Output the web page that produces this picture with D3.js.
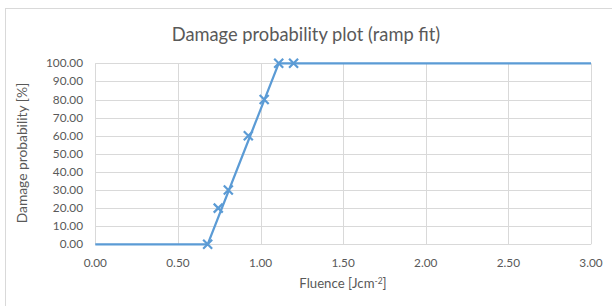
<!DOCTYPE html>
<html><head><meta charset="utf-8">
<script src="https://cdn.jsdelivr.net/npm/d3@7"></script>
<style>body{margin:0;background:#fff}svg{display:block}text{font-family:Lato,"Open Sans",sans-serif}</style>
</head><body><svg id="c" width="612" height="306"></svg>
<script>
const fitX = [0, 0.68, 1.11, 3.0];
const fitY = [0, 0, 100, 100];
const dataX = [0.68, 0.744, 0.805, 0.926, 1.022, 1.11, 1.20];
const dataY = [0, 20, 30, 60, 80, 100, 100];
const xTicks = [0, 0.5, 1, 1.5, 2, 2.5, 3];
const yTicks = [0,10,20,30,40,50,60,70,80,90,100];

const svg = d3.select("#c");
const m = {l:95.3, r:591, t:63.3, b:244.3};
const x = d3.scaleLinear().domain([0,3]).range([m.l,m.r]);
const y = d3.scaleLinear().domain([0,100]).range([m.b,m.t]);

svg.append("rect").attr("x",5.5).attr("y",8.5).attr("width",620).attr("height",310)
  .attr("fill","#fff").attr("stroke","#d9d9d9").attr("stroke-width",1);

svg.append("text").attr("x",306).attr("y",41).attr("text-anchor","middle")
  .attr("font-size",18.3).attr("fill","#595959").text("Damage probability plot (ramp fit)");

const g = svg.append("g");
g.selectAll(".gy").data(yTicks).join("line")
  .attr("x1",m.l).attr("x2",m.r).attr("y1",d=>Math.round(y(d))+0.5).attr("y2",d=>Math.round(y(d))+0.5)
  .attr("stroke","#d9d9d9");
g.selectAll(".gx").data(xTicks).join("line")
  .attr("y1",m.t).attr("y2",m.b).attr("x1",d=>Math.round(x(d))+0.5).attr("x2",d=>Math.round(x(d))+0.5)
  .attr("stroke","#d9d9d9");

g.selectAll(".ty").data(yTicks).join("text")
  .attr("x",83).attr("y",d=>y(d)+4).attr("text-anchor","end").attr("font-size",11.8)
  .attr("fill","#595959").text(d=>d.toFixed(2));
g.selectAll(".tx").data(xTicks).join("text")
  .attr("x",d=>x(d)).attr("y",267).attr("text-anchor","middle").attr("font-size",11.8)
  .attr("fill","#595959").text(d=>d.toFixed(2));

const xl = svg.append("text").attr("x",343).attr("y",288).attr("text-anchor","middle")
  .attr("font-size",13.2).attr("fill","#595959");
xl.append("tspan").text("Fluence [Jcm");
xl.append("tspan").attr("font-size",8.5).attr("dy",-4.5).text("-2");
xl.append("tspan").attr("dy",4.5).text("]");

svg.append("text").attr("transform","translate(27,153) rotate(-90)").attr("text-anchor","middle")
  .attr("font-size",13.8).attr("fill","#595959").text("Damage probability [%]");

const line = d3.line().x((d,i)=>x(d[0])).y(d=>y(d[1]));
svg.append("path").datum(fitX.map((v,i)=>[v,fitY[i]])).attr("d",line)
  .attr("fill","none").attr("stroke","#5b9bd5").attr("stroke-width",2.25).attr("stroke-linejoin","round");

const s = 4.5;
const mk = svg.selectAll(".mk").data(dataX.map((v,i)=>[v,dataY[i]])).join("path")
  .attr("d",d=>{const cx=x(d[0]),cy=y(d[1]);return `M${cx-s},${cy-s}L${cx+s},${cy+s}M${cx-s},${cy+s}L${cx+s},${cy-s}`;})
  .attr("stroke","#5b9bd5").attr("stroke-width",2.2).attr("fill","none");
</script></body></html>
